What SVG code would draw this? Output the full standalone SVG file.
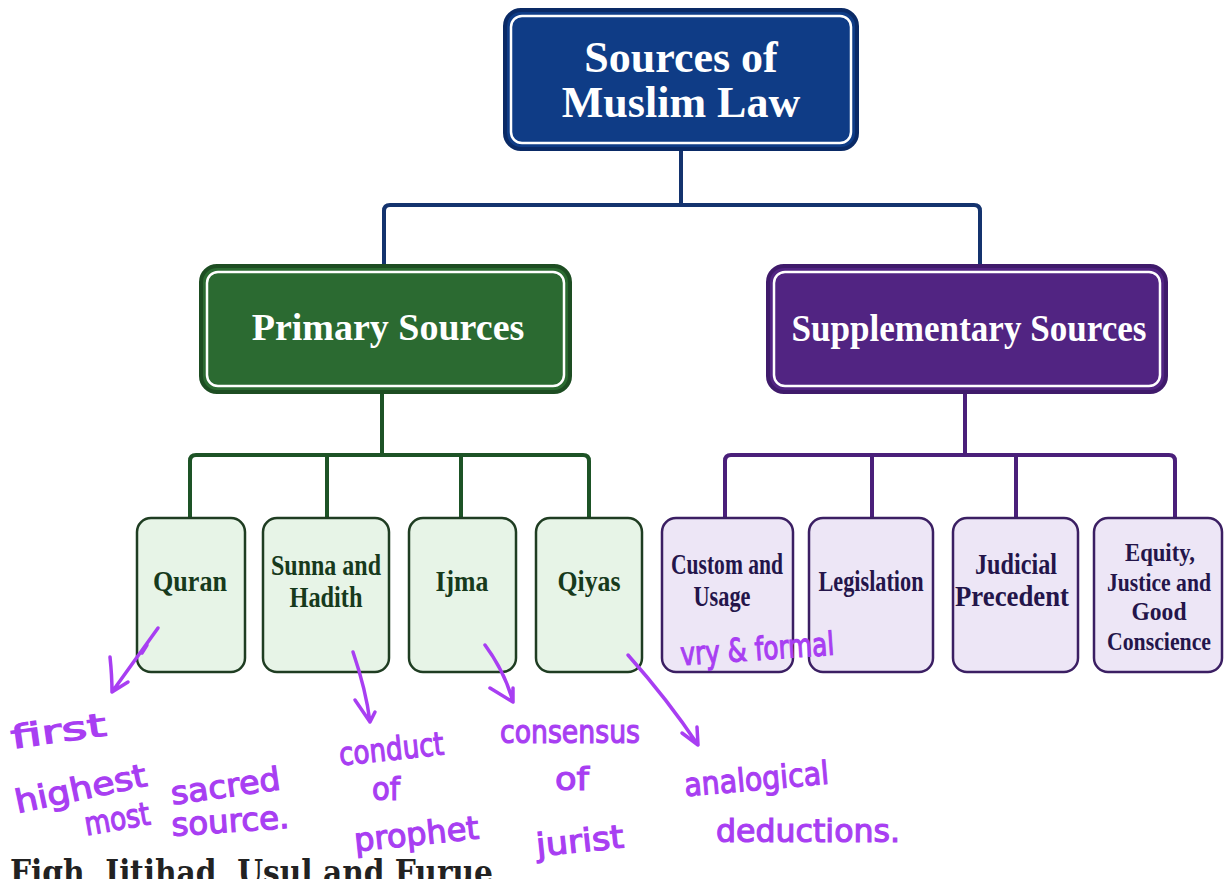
<svg xmlns="http://www.w3.org/2000/svg" width="1224" height="879" viewBox="0 0 1224 879">
  <style>
    .title { font-family: "Liberation Serif", "Times New Roman", serif; font-weight: bold; fill: #ffffff; text-anchor: middle; }
    .leaf { font-family: "Liberation Serif", "Times New Roman", serif; font-weight: bold; font-size: 29px; text-anchor: middle; }
    .small { font-size: 26px; }
    .leaf-g { fill: #173a1c; }
    .leaf-p { fill: #24154a; }
    .inner { fill: none; stroke: #ffffff; stroke-width: 2.5; }
    .box-g { fill: #e7f4e7; stroke: #1f3d22; stroke-width: 2.5; }
    .box-p { fill: #ede6f6; stroke: #3b1f63; stroke-width: 2.5; }
    .conn { fill: none; stroke-width: 4; stroke-linejoin: round; }
    .ink { fill: none; stroke: #a83ef2; stroke-width: 3.5; stroke-linecap: round; stroke-linejoin: round; }
    .hand { font-family: "DejaVu Sans", "Noto Sans", sans-serif; fill: #a83ef2; stroke: #a83ef2; stroke-width: 1.2; font-size: 32px; }
  </style>

  <rect width="1224" height="879" fill="#ffffff"/>

  <!-- connectors -->
  <g id="connectors">
    <path class="conn" stroke="#14336e" d="M681,150 V205 M384,266 V211 Q384,205 390,205 H974 Q980,205 980,211 V266"/>
    <path class="conn" stroke="#1d5326" d="M382,393 V455 M190,518 V461 Q190,455 196,455 H583 Q589,455 589,461 V518 M327,455 V518 M461,455 V518"/>
    <path class="conn" stroke="#4a1f7a" d="M965,393 V455 M725,518 V461 Q725,455 731,455 H1169 Q1175,455 1175,461 V518 M872,455 V518 M1016,455 V518"/>
  </g>

  <!-- root -->
  <g id="root">
    <rect x="505" y="10" width="352" height="139" rx="16" fill="#0f3c86" stroke="#0a2a66" stroke-width="4"/>
    <rect class="inner" x="511" y="16" width="340" height="127" rx="11"/>
    <text class="title" x="681" y="72" font-size="44">Sources of</text>
    <text class="title" x="681" y="117" font-size="44">Muslim Law</text>
  </g>

  <!-- second level -->
  <g id="primary">
    <rect x="201" y="266" width="369" height="126" rx="16" fill="#2b6a31" stroke="#1d4d22" stroke-width="4"/>
    <rect class="inner" x="207" y="272" width="357" height="114" rx="11"/>
    <text class="title" x="388" y="340" font-size="38">Primary Sources</text>
  </g>
  <g id="supplementary">
    <rect x="768" y="266" width="398" height="126" rx="16" fill="#512482" stroke="#3f1a6b" stroke-width="4"/>
    <rect class="inner" x="774" y="272" width="386" height="114" rx="11"/>
    <text class="title" x="969" y="341" font-size="38" textLength="355" lengthAdjust="spacingAndGlyphs">Supplementary Sources</text>
  </g>

  <!-- primary leaves -->
  <g id="quran">
    <rect class="box-g" x="137" y="518" width="108" height="154" rx="14"/>
    <text class="leaf leaf-g" x="190" y="591" textLength="74" lengthAdjust="spacingAndGlyphs">Quran</text>
  </g>
  <g id="sunna">
    <rect class="box-g" x="263" y="518" width="126" height="154" rx="14"/>
    <text class="leaf leaf-g" x="326" y="575" textLength="110" lengthAdjust="spacingAndGlyphs">Sunna and</text>
    <text class="leaf leaf-g" x="326" y="607" textLength="73" lengthAdjust="spacingAndGlyphs">Hadith</text>
  </g>
  <g id="ijma">
    <rect class="box-g" x="409" y="518" width="107" height="154" rx="14"/>
    <text class="leaf leaf-g" x="462" y="591" textLength="53" lengthAdjust="spacingAndGlyphs">Ijma</text>
  </g>
  <g id="qiyas">
    <rect class="box-g" x="536" y="518" width="106" height="154" rx="14"/>
    <text class="leaf leaf-g" x="589" y="591" textLength="63" lengthAdjust="spacingAndGlyphs">Qiyas</text>
  </g>

  <!-- supplementary leaves -->
  <g id="custom">
    <rect class="box-p" x="662" y="518" width="131" height="154" rx="14"/>
    <text class="leaf leaf-p" x="727" y="574" textLength="112" lengthAdjust="spacingAndGlyphs">Custom and</text>
    <text class="leaf leaf-p" x="722" y="606" textLength="57" lengthAdjust="spacingAndGlyphs">Usage</text>
  </g>
  <g id="legislation">
    <rect class="box-p" x="809" y="518" width="124" height="154" rx="14"/>
    <text class="leaf leaf-p" x="871" y="591" textLength="105" lengthAdjust="spacingAndGlyphs">Legislation</text>
  </g>
  <g id="judicial">
    <rect class="box-p" x="953" y="518" width="125" height="154" rx="14"/>
    <text class="leaf leaf-p" x="1016" y="574" textLength="82" lengthAdjust="spacingAndGlyphs">Judicial</text>
    <text class="leaf leaf-p" x="1012" y="606" textLength="114" lengthAdjust="spacingAndGlyphs">Precedent</text>
  </g>
  <g id="equity">
    <rect class="box-p" x="1094" y="518" width="128" height="154" rx="14"/>
    <text class="leaf leaf-p small" x="1160" y="561" textLength="70" lengthAdjust="spacingAndGlyphs">Equity,</text>
    <text class="leaf leaf-p small" x="1159" y="591" textLength="104" lengthAdjust="spacingAndGlyphs">Justice and</text>
    <text class="leaf leaf-p small" x="1159" y="620" textLength="55" lengthAdjust="spacingAndGlyphs">Good</text>
    <text class="leaf leaf-p small" x="1159" y="650" textLength="104" lengthAdjust="spacingAndGlyphs">Conscience</text>
  </g>

  <!-- handwritten notes -->
  <g id="notes">
    <path class="ink" d="M158,628 L112,692 M110,657 Q112,676 112,692 L128,682 M147,645 L142,653"/>
    <path class="ink" d="M353,652 Q366,690 370,722 M355,700 L370,722 L375,712"/>
    <path class="ink" d="M485,645 Q505,672 513,702 M490,688 L513,702 L513,688"/>
    <path class="ink" d="M628,655 Q668,700 698,745 M682,733 L698,745 L697,727"/>

    <text class="hand" x="12" y="742" font-size="38" textLength="96" lengthAdjust="spacingAndGlyphs" transform="rotate(-8 60 742)">first</text>
    <text class="hand" x="16" y="800" font-size="36" textLength="134" lengthAdjust="spacingAndGlyphs" transform="rotate(-12 80 800)">highest</text>
    <text class="hand" x="86" y="830" font-size="36" textLength="66" lengthAdjust="spacingAndGlyphs" transform="rotate(-10 118 830)">most</text>
    <text class="hand" x="172" y="797" textLength="110" lengthAdjust="spacingAndGlyphs" transform="rotate(-8 227 797)">sacred</text>
    <text class="hand" x="172" y="832" textLength="118" lengthAdjust="spacingAndGlyphs" transform="rotate(-4 231 832)">source.</text>
    <text class="hand" x="340" y="760" textLength="105" lengthAdjust="spacingAndGlyphs" transform="rotate(-6 392 760)">conduct</text>
    <text class="hand" x="372" y="800" textLength="28" lengthAdjust="spacingAndGlyphs">of</text>
    <text class="hand" x="355" y="845" textLength="125" lengthAdjust="spacingAndGlyphs" transform="rotate(-6 417 845)">prophet</text>
    <text class="hand" x="500" y="743" textLength="140" lengthAdjust="spacingAndGlyphs">consensus</text>
    <text class="hand" x="555" y="790" textLength="34" lengthAdjust="spacingAndGlyphs">of</text>
    <text class="hand" x="537" y="852" textLength="88" lengthAdjust="spacingAndGlyphs" transform="rotate(-6 580 852)">jurist</text>
    <text class="hand" x="685" y="790" textLength="145" lengthAdjust="spacingAndGlyphs" transform="rotate(-5 757 790)">analogical</text>
    <text class="hand" x="716" y="842" textLength="184" lengthAdjust="spacingAndGlyphs">deductions.</text>
    <text class="hand" x="681" y="660" font-size="30" textLength="154" lengthAdjust="spacingAndGlyphs" transform="rotate(-4 758 660)">vry &amp; formal</text>
  </g>

  <!-- heading below the chart -->
  <text x="10" y="884" font-family="'DejaVu Serif', 'Liberation Serif', serif" font-weight="bold" font-size="34" fill="#222222" textLength="483" lengthAdjust="spacingAndGlyphs">Fiqh, Ijtihad, Usul and Furue</text>
</svg>
